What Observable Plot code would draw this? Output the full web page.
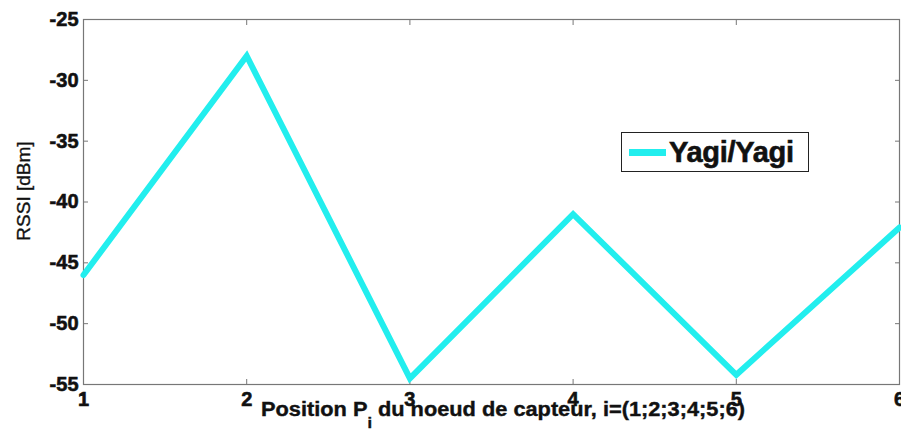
<!DOCTYPE html>
<html>
<head>
<meta charset="utf-8">
<script src="https://cdn.jsdelivr.net/npm/d3@7"></script>
<script src="https://cdn.jsdelivr.net/npm/@observablehq/plot@0.6"></script>
<style>
  html, body { margin: 0; padding: 0; background: #fff; }
  #wrap { position: relative; width: 901px; height: 437px; overflow: hidden; }
  #wrap svg g[aria-label$="tick label"] text { font-size: 20px !important; font-weight: bold !important; stroke: #111; stroke-width: 0.6px; }
  #legend { position: absolute; left: 621px; top: 132px; width: 186px; height: 38px;
    border: 1px solid #222; background: #fff; box-sizing: content-box;
    font-family: "Liberation Sans", Arial, sans-serif; font-weight: bold; font-size: 29px; color: #111; }
  #legend .sw { position: absolute; left: 7px; top: 16px; width: 37px; height: 7px; background: #22eeee; }
  #legend .lab { position: absolute; left: 47px; top: 2px; line-height: 34px; letter-spacing: -0.3px; -webkit-text-stroke: 0.6px #111; }
</style>
</head>
<body>
<div id="wrap"></div>
<script>
const positions = [1, 2, 3, 4, 5, 6];
const rssi = [-46, -28, -54.5, -41, -54.2, -42.1];
const seriesName = "Yagi/Yagi";
const xTicks = [1, 2, 3, 4, 5, 6];
const yTicks = [-55, -50, -45, -40, -35, -30, -25];

const data = positions.map((p, i) => ({x: p, y: rssi[i]}));
const font = "'Liberation Sans', Arial, sans-serif";

const plot = Plot.plot({
  width: 901,
  height: 437,
  marginLeft: 83,
  marginRight: 2,
  marginTop: 19,
  marginBottom: 53,
  style: {fontFamily: font, fontSize: "20px", fontWeight: "bold", background: "#fff", overflow: "visible"},
  x: {domain: [1, 6]},
  y: {domain: [-55, -25]},
  marks: [
    Plot.frame({stroke: "#777", strokeWidth: 1.2}),
    Plot.axisX(xTicks, {anchor: "bottom", tickSize: -5, tickFormat: () => "", stroke: "#777", label: null}),
    Plot.axisX(xTicks, {anchor: "top", tickSize: -5, tickFormat: () => "", stroke: "#777", label: null}),
    Plot.axisY(yTicks, {anchor: "left", tickSize: -5, tickFormat: () => "", stroke: "#777", label: null}),
    Plot.axisY(yTicks, {anchor: "right", tickSize: -5, tickFormat: () => "", stroke: "#777", label: null}),
    Plot.axisX(xTicks, {anchor: "bottom", tickSize: 0, tickPadding: 7, fill: "#111", label: null, tickFormat: d => String(d)}),
    Plot.axisY(yTicks, {anchor: "left", tickSize: 0, tickPadding: 5, fill: "#111", label: null, tickFormat: d => String(d)}),
    Plot.line(data, {x: "x", y: "y", stroke: "#22eeee", strokeWidth: 6, strokeLinejoin: "miter", strokeMiterlimit: 10})
  ]
});

document.getElementById("wrap").appendChild(plot);

const svg = d3.select(plot);

// y-axis title
svg.append("text")
  .attr("transform", "translate(30,191) rotate(-90)")
  .attr("text-anchor", "middle")
  .attr("font-family", font)
  .attr("font-size", 19)
  .attr("font-weight", "normal")
  .style("font-weight", "normal")
  .attr("fill", "#111")
  .attr("stroke", "#111")
  .attr("stroke-width", 0.35)
  .text("RSSI [dBm]");
// x-axis title with subscript
const xt = svg.append("text")
  .attr("x", 261).attr("y", 416)
  .attr("text-anchor", "start")
  .attr("font-family", font)
  .attr("font-size", 20)
  .attr("font-weight", "bold")
  .attr("fill", "#111")
  .attr("stroke", "#111")
  .attr("stroke-width", 0.4)
  .attr("textLength", 484)
  .attr("lengthAdjust", "spacingAndGlyphs");
xt.append("tspan").text("Position P");
xt.append("tspan").attr("dy", 12).attr("font-size", 15).text("i");
xt.append("tspan").attr("dy", -12).text(" du noeud de capteur, i=(1;2;3;4;5;6)");

// legend
const lg = document.createElement("div");
lg.id = "legend";
lg.innerHTML = '<div class="sw"></div><div class="lab"></div>';
lg.querySelector(".lab").textContent = seriesName;
document.getElementById("wrap").appendChild(lg);
</script>
</body>
</html>
